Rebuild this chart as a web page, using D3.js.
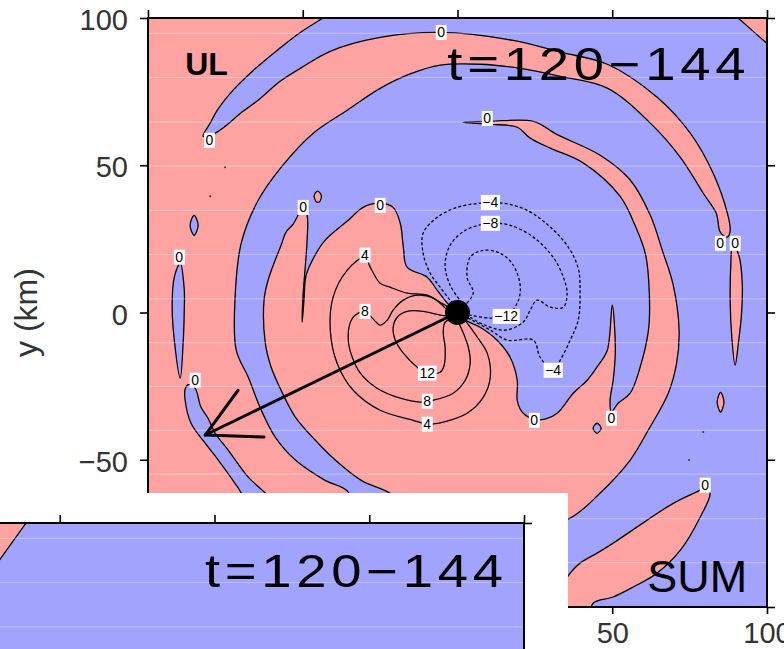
<!DOCTYPE html>
<html><head><meta charset="utf-8">
<script src="https://cdn.jsdelivr.net/npm/d3@7"></script>
<style>
body{margin:0;background:#fff;}
svg{display:block;}
text{font-family:"Liberation Sans",Arial,Helvetica,sans-serif;}
</style>
</head><body>
<svg id="c" width="784" height="649"></svg>
<script>
// ---------------- data (km) ----------------
const axisTicks = [-100, -50, 0, 50, 100];
const gridY = [94.8, 79.8, 64.7, 49.7, 34.7, 19.7, 4.6, -10.2, -25.1, -40.0, -54.9, -70.0, -84.9];
const panelTitle = "t=120\u2212144";
const panelTag = "UL";
const panelSum = "SUM";
const yLabel = "y (km)";

// 0-contour regions (negative = blue)
const blueMain = [
 [-82.2,59.8],[-79.8,64.5],[-77.6,68.7],[-72.5,75.5],[-66.0,82.2],[-58.3,89.0],[-50.8,95.1],[-43.4,100],[-36,104.8],[-25,112],[80,112],[84,106.2],[90.7,100],[100,91.4],[106,86.5],[112,80],[112,-112],[-30,-112],[-32,-80],
 [-35.3,-61.0],[-42.8,-57.0],[-52.4,-50.1],[-58.9,-42.3],[-63.4,-33.2],[-67.6,-22.0],[-71.5,-12.8],[-71.9,4.2],[-69.9,23.5],[-64.4,38.1],[-57.0,49.3],[-46.6,60.9],[-35.6,68.7],[-25.0,76.1],[-15.3,81.0],[-5.6,84.0],[7.3,84.3],[20.3,82.9],[33.2,80.2],[48.4,76.2],[62.3,64.3],[72.0,52.7],[79.4,40.5],[83.6,33.7],[84.9,27.3],
 [87.2,25.6],
 [88.1,27.9],[87.2,33.7],[82.6,47.3],[75.2,60.9],[64.5,73.1],[48.4,84.3],[33.2,88.4],[18.0,92.4],[-5.6,95.1],[-25.0,93.4],[-41.1,88.7],[-50.8,82.9],[-57.3,78.5],[-64.4,72.1],[-70.2,67.6],[-75.1,63.2],[-78.9,60.6]
];
const blueSliverL = [[-89.6,16.7],[-88.3,8],[-88.3,0],[-88.6,-9.4],[-89.6,-22.3],[-91.5,-9.4],[-92.2,2],[-91.5,12]];
const blueDiamondL = [[-85.1,33],[-83.8,29.6],[-85.1,26.2],[-86.4,29.6]];
const blueArmLL = [[-87.0,-24.5],[-84.8,-25.7],[-82.9,-32.1],[-80.6,-35.9],[-78.3,-41.0],[-74.1,-46.7],[-67.6,-55.9],[-62.1,-61.3],[-52,-72],[-45,-90],[-60,-90],[-69.9,-61.3],[-71.9,-58.0],[-77.3,-50.1],[-81.5,-44.4],[-86.1,-37.6],[-88.0,-29.8],[-88.0,-26.0]];
const blueLoopC = [[45.1,-37.6],[46.4,-39.3],[45.1,-41.0],[43.8,-39.3]];

// positive = pink
const pinkCore = [
 [-50.2,36.1],[-48.6,33.0],[-48.6,24.5],[-49.2,15.4],[-49.9,5.9],[-50.2,-3.3],
 [-49.6,4.2],[-48.9,12.7],[-46.0,19.5],[-42.8,24.5],[-35.3,31.3],[-30.5,35.7],[-25.0,37.1],[-20.8,35.7],[-18.5,30.3],[-17.5,22.2],[-16.3,15.4],[-9.8,12.0],[-6.6,7.6],[-3.3,3.2],[0,-0.2],[2.5,-2.6],[7.3,-5.0],[12.8,-9.4],[17.0,-15.2],[19.3,-23.0],[19.3,-29.8],[20.9,-33.8],[24.5,-36.2],[28.3,-36.2],[32.2,-34.2],[37.4,-27.4],[41.9,-23.0],[45.5,-17.9],[48.4,-12.8],
 [50.0,2.5],
 [51.0,-12.8],[50.3,-23.0],[49.3,-29.8],[49.7,-33.8],[51.9,-30.8],[55.8,-27.4],[59.0,-18.6],[61.7,-6.0],[62.0,6.0],[60.8,19.5],[57.4,29.5],[52.5,39.5],[40.6,50.8],[30.0,55.8],[23.5,59.2],[19.3,62.9],[10.6,63.9],
 [1.8,64.6],
 [10.6,64.9],[24.5,64.9],[32.2,60.4],[46.1,53.4],[55.8,45.0],[62.3,33.0],[66.2,21.0],[69.7,9.3],[71.6,-6.0],[70.8,-17.2],[68.1,-27.4],[61.6,-40.0],[55.8,-50.1],[46.1,-61.3],[36.4,-69.8],[20.3,-74.6],[4.1,-73.2],[-12.1,-68.1],[-22.4,-61.0],[-31.1,-57.0],[-39.5,-50.1],[-46.0,-43.3],[-52.4,-35.5],[-57.0,-26.4],[-60.2,-18.6],[-62.1,-10.4],[-62.5,4.2],[-61.2,11.0],[-58.9,17.8],[-57.0,22.8],[-55.4,27.3],[-53.1,30.0],[-51.2,33.7]
];
const pinkSliverR = [[88.9,23.5],[91.0,19.0],[92.0,10],[91.8,0],[90.8,-10],[89.7,-17.9],[88.6,-8],[88.1,4],[88.3,16]];
const pinkSliverB = [[80.0,-59.3],[78.4,-60.3],[69.7,-64.8],[61.3,-70.5],[50.3,-78.3],[45.1,-81.7],[39.6,-85.1],[36.4,-88.5],[30,-100],[30,-105],[42,-105],[43.8,-98.7],[50.3,-96.6],[56.8,-93.2],[64.5,-88.5],[72.0,-80.7],[78.4,-69.5],[81.6,-61.3]];
const pinkDiamond = [[85,-27.1],[86.1,-30.4],[85,-33.8],[83.9,-30.4]];
const pinkBlob = [[-45.2,41.2],[-44.0,39.8],[-44.6,37.6],[-45.6,37.6],[-46.3,39.8]];
const specks = [[-75.1,49.3],[-79.9,39.5],[79.4,-40.6],[74.8,-50.1]];

// inner contours
const contourPos4 = [[1.8,-1.6],[4.1,-5.0],[6.4,-8.4],[9.6,-13.8],[10.6,-22.0],[8.3,-28.8],[3.1,-34.2],[-4.6,-37.2],[-9.8,-37.9],[-14.3,-36.6],[-25.0,-33.2],[-33.7,-26.4],[-38.9,-17.2],[-41.1,-6.0],[-40.2,5.2],[-35.6,14.4],[-29.9,18.8],[-28.2,15.4],[-25.0,9.9],[-21.8,8.6],[-16.3,6.6],[-9.8,5.9],[-5.6,3.5],[-2.4,1.5]];
const contourPos8 = [[-0.1,-2.6],[1.5,-6.0],[3.5,-11.8],[4.1,-17.2],[2.5,-23.0],[-1.4,-27.4],[-7.9,-29.8],[-12.1,-30.4],[-18.5,-29.1],[-26.0,-25.7],[-31.4,-20.6],[-34.0,-15.2],[-35.3,-9.4],[-34.7,-3.6],[-33.1,-0.9],[-29.9,0.1],[-26.0,-3.6],[-25.0,-4.3],[-22.7,-2.6],[-20.8,0.8],[-17.5,4.2],[-13.0,5.9],[-7.9,4.9],[-3.3,0.8]];
const contourPos12 = [[-0.7,-1.9],[-4.0,-3.3],[-4.6,-7.0],[-4.0,-11.8],[-4.3,-17.9],[-5.6,-20.3],[-9.8,-20.6],[-13.0,-18.6],[-17.5,-13.8],[-20.1,-9.4],[-20.8,-5.0],[-19.5,-1.6],[-16.3,0.4],[-11.1,0.4],[-5.6,-0.9],[-1.7,-1.3]];
const contourNeg4 = [[-0.1,1.8],[-2.4,4.2],[-5.6,8.6],[-8.8,13.3],[-11.1,20.1],[-11.1,26.9],[-6.6,32.3],[-0.1,35.7],[7.3,37.1],[14.8,37.1],[22.5,34.7],[30.0,29.0],[35.8,22.2],[39.0,15.0],[39.6,6.6],[39.0,-2.6],[36.4,-9.4],[33.2,-16.2],[30.9,-19.6],[26.7,-15.2],[24.5,-9.4],[16.1,-9.4],[10.6,-6.0],[4.7,-2.6],[1.5,-0.9]];
const contourNeg8 = [[1.5,3.2],[-2.4,9.3],[-4.0,16.1],[-2.4,22.8],[2.5,27.9],[10.6,30.3],[17.0,29.6],[24.5,25.6],[30.9,18.8],[34.2,12.0],[35.4,6.6],[34.2,1.8],[30.0,1.8],[25.7,4.2],[23.5,0.8],[21.2,-3.3],[15.4,-6.0],[8.9,-4.3],[3.5,-1.3]];
const contourNeg12 = [[1.8,1.8],[5.1,6.6],[3.1,12.0],[4.1,18.8],[8.3,21.1],[13.8,20.1],[18.0,16.1],[20.3,8.6],[19.3,3.2],[15.7,-1.3],[10.6,-1.9],[4.1,-0.9]];

// contour labels [text, x, y]
const contourLabels = [
 ["0",-5.3,95.1],["0",9.6,65.9],["0",-80.2,58.5],["0",-49.9,35.7],["0",-25.0,36.4],["0",-89.9,18.8],["0",-84.8,-23.0],
 ["0",84.9,23.5],["0",89.7,23.5],["0",24.8,-36.6],["0",49.7,-35.9],["0",80.0,-58.6],
 ["4",-29.9,19.5],["8",-29.9,0.4],["12",-9.8,-20.6],["8",-9.8,-30.1],["4",-9.8,-37.9],
 ["\u22124",10.6,37.4],["\u22128",10.6,30.3],["\u221212",15.7,-1.3],["\u22124",30.9,-19.6]
];
// storm centre and arrow
const centre = [0, 0];
const arrowTip = [-81.5, -41.6];
const arrowHeads = [[-70.9, -26.4], [-62.5, -42.3]];
// text anchor positions
const titleSpan = [-3.3, 94.6];
const titleBase = 78.9;
const tagPos = [-88.0, 80.5];
const sumPos = [61.3, -95.0];
// lower (overlapping) panel
const insetPink = [[-100,100],[-60.9,100],[-75,79.3],[-100,79.3]];
const insetTitleSpan = [-3.1, 94.8];
const insetTitleBase = 78.3;

// ---------------- drawing ----------------
const PINK = "#ffa2a2", BLUE = "#a2a2ff";
const svg = d3.select("#c");
const x = d3.scaleLinear().domain([-100, 100]).range([148, 767]);
const y = d3.scaleLinear().domain([-100, 100]).range([607, 18]);

const defs = svg.append("defs");
defs.append("clipPath").attr("id", "clipMain").append("rect")
  .attr("x", x(-100)).attr("y", y(100)).attr("width", x(100) - x(-100)).attr("height", y(-100) - y(100));

const gMain = svg.append("g").attr("clip-path", "url(#clipMain)");
const closed = d3.line().x(d => x(d[0])).y(d => y(d[1])).curve(d3.curveCatmullRomClosed.alpha(0.5));
const open = d3.line().x(d => x(d[0])).y(d => y(d[1])).curve(d3.curveCatmullRom.alpha(0.5));

gMain.append("rect").attr("x", x(-100)).attr("y", y(100))
  .attr("width", x(100) - x(-100)).attr("height", y(-100) - y(100)).attr("fill", PINK);

function region(data, fill) {
  gMain.append("path").attr("d", closed(data)).attr("fill", fill)
    .attr("stroke", "#000").attr("stroke-width", 1.3).attr("stroke-linejoin", "round");
}
region(blueMain, BLUE);
[blueSliverL, blueDiamondL, blueArmLL].forEach(d => region(d, BLUE));
region(pinkCore, PINK);
[pinkSliverR, pinkSliverB, pinkDiamond, pinkBlob].forEach(d => region(d, PINK));
region(blueLoopC, BLUE);

gMain.selectAll(".speck").data(specks).join("circle")
  .attr("cx", d => x(d[0])).attr("cy", d => y(d[1])).attr("r", 1).attr("fill", "#333");

// faint horizontal streaks
gMain.selectAll(".grid").data(gridY).join("line")
  .attr("x1", x(-100)).attr("x2", x(100)).attr("y1", d => y(d)).attr("y2", d => y(d))
  .attr("stroke", "#fff").attr("stroke-opacity", 0.3).attr("stroke-width", 1.2);

// contour lines
[contourPos4, contourPos8, contourPos12].forEach(c =>
  gMain.append("path").attr("d", open(c)).attr("fill", "none").attr("stroke", "#000").attr("stroke-width", 1.3));
[contourNeg4, contourNeg8, contourNeg12].forEach(c =>
  gMain.append("path").attr("d", open(c)).attr("fill", "none").attr("stroke", "#000")
    .attr("stroke-width", 1.3).attr("stroke-dasharray", "3,2.2"));

// labels
const lab = gMain.selectAll(".lab").data(contourLabels).join("g")
  .attr("transform", d => `translate(${x(d[1])},${y(d[2])})`);
lab.each(function(d) {
  const g = d3.select(this);
  const t = g.append("text").text(d[0]).attr("text-anchor", "middle").attr("dy", "0.36em")
    .attr("font-size", 14).attr("fill", "#000");
  const b = t.node().getBBox();
  g.insert("rect", "text").attr("x", b.x - 1.5).attr("y", b.y + 0.5).attr("width", b.width + 3).attr("height", b.height - 1)
    .attr("fill", "#fff");
});

// arrow
const gArrow = gMain.append("g").attr("stroke", "#000").attr("stroke-width", 3).attr("stroke-linecap", "round");
gArrow.append("line").attr("x1", x(centre[0])).attr("y1", y(centre[1])).attr("x2", x(arrowTip[0])).attr("y2", y(arrowTip[1]));
arrowHeads.forEach(h => gArrow.append("line").attr("x1", x(arrowTip[0])).attr("y1", y(arrowTip[1])).attr("x2", x(h[0])).attr("y2", y(h[1])));
gMain.append("circle").attr("cx", x(centre[0])).attr("cy", y(centre[1])).attr("r", 12.5).attr("fill", "#000");

// panel texts
function titleText(g, xs, ys, span, base) {
  g.append("text").text(panelTitle).attr("x", xs(span[0])).attr("y", ys(base))
    .attr("font-size", 46).attr("letter-spacing", 4).attr("textLength", xs(span[1]) - xs(span[0]))
    .attr("lengthAdjust", "spacingAndGlyphs").attr("fill", "#000");
}
gMain.append("text").text(panelTag).attr("x", x(tagPos[0])).attr("y", y(tagPos[1]))
  .attr("font-size", 32).attr("font-weight", "bold").attr("fill", "#000");
titleText(gMain, x, y, titleSpan, titleBase);
gMain.append("text").text(panelSum).attr("x", x(sumPos[0])).attr("y", y(sumPos[1]))
  .attr("font-size", 45).attr("fill", "#000");

// axes
function styleAxis(g, fs) {
  g.select(".domain").remove();
  g.selectAll(".tick line").attr("stroke", "#000").attr("stroke-width", 1.6);
  g.selectAll(".tick text").attr("font-size", fs).attr("fill", "#333")
    .attr("font-family", "Liberation Sans, Arial, sans-serif");
}
const gl = svg.append("g").attr("transform", `translate(${x(-100)},0)`)
  .call(d3.axisLeft(y).tickValues(axisTicks).tickSize(8).tickPadding(12));
styleAxis(gl, 29); gl.selectAll(".tick text").attr("dy", "0.4em");
const gb = svg.append("g").attr("transform", `translate(0,${y(-100)})`)
  .call(d3.axisBottom(x).tickValues(axisTicks).tickSize(7).tickPadding(8));
styleAxis(gb, 29);
const gt = svg.append("g").attr("transform", `translate(0,${y(100)})`)
  .call(d3.axisTop(x).tickValues(axisTicks).tickSize(8).tickFormat(""));
styleAxis(gt, 0);
const gr = svg.append("g").attr("transform", `translate(${x(100)},0)`)
  .call(d3.axisRight(y).tickValues(axisTicks).tickSize(8).tickFormat(""));
styleAxis(gr, 0);
svg.append("rect").attr("x", x(-100)).attr("y", y(100)).attr("width", x(100) - x(-100)).attr("height", y(-100) - y(100))
  .attr("fill", "none").attr("stroke", "#000").attr("stroke-width", 2);

svg.append("text").text(yLabel).attr("transform", `translate(37,${y(0)}) rotate(-90)`)
  .attr("text-anchor", "middle").attr("font-size", 32).attr("fill", "#333");

// ---------------- lower overlapping panel ----------------
const xi = d3.scaleLinear().domain([-100, 100]).range([-95, 524]);
const yi = d3.scaleLinear().domain([-100, 100]).range([1112, 523]);
svg.append("rect").attr("x", 0).attr("y", 493).attr("width", 568).attr("height", 156).attr("fill", "#fff");
defs.append("clipPath").attr("id", "clipInset").append("rect")
  .attr("x", xi(-100)).attr("y", yi(100)).attr("width", xi(100) - xi(-100)).attr("height", yi(-100) - yi(100));
const gi = svg.append("g").attr("clip-path", "url(#clipInset)");
const closedI = d3.line().x(d => xi(d[0])).y(d => yi(d[1])).curve(d3.curveLinearClosed);
gi.append("rect").attr("x", xi(-100)).attr("y", yi(100)).attr("width", xi(100) - xi(-100)).attr("height", yi(-100) - yi(100)).attr("fill", BLUE);
gi.append("path").attr("d", closedI(insetPink)).attr("fill", PINK).attr("stroke", "#000").attr("stroke-width", 1.3);
gi.selectAll(".grid").data(gridY).join("line")
  .attr("x1", xi(-100)).attr("x2", xi(100)).attr("y1", d => yi(d)).attr("y2", d => yi(d))
  .attr("stroke", "#fff").attr("stroke-opacity", 0.3).attr("stroke-width", 1.2);
titleText(gi, xi, yi, insetTitleSpan, insetTitleBase);
const git = svg.append("g").attr("transform", `translate(0,${yi(100)})`)
  .call(d3.axisTop(xi).tickValues(axisTicks).tickSize(8).tickFormat(""));
styleAxis(git, 0);
const gir = svg.append("g").attr("transform", `translate(${xi(100)},0)`)
  .call(d3.axisRight(yi).tickValues(axisTicks).tickSize(8).tickFormat(""));
styleAxis(gir, 0);
svg.append("rect").attr("x", xi(-100)).attr("y", yi(100)).attr("width", xi(100) - xi(-100)).attr("height", yi(-100) - yi(100))
  .attr("fill", "none").attr("stroke", "#000").attr("stroke-width", 2);
</script>
</body></html>
